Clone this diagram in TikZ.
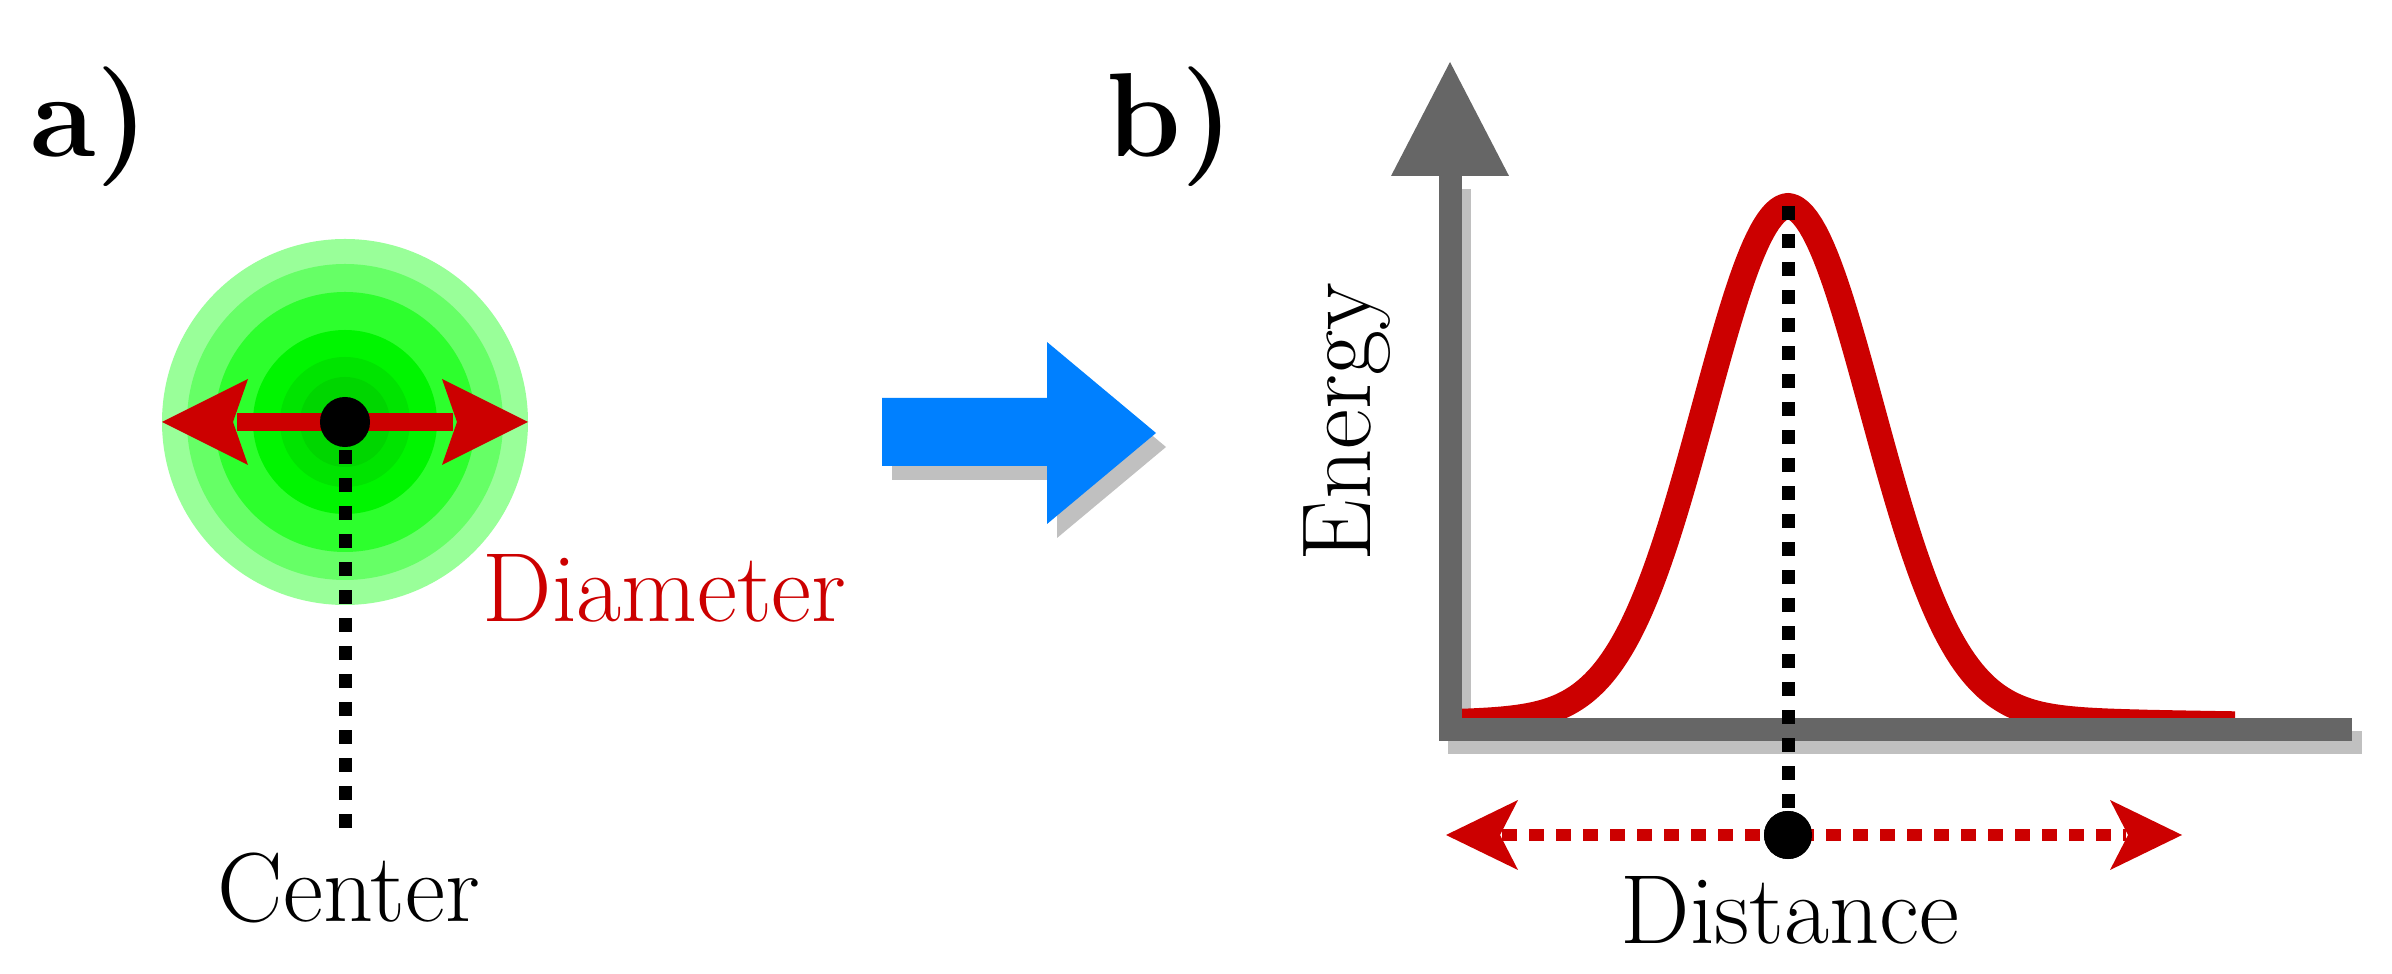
\documentclass[tikz,border=0pt]{standalone}
\usepackage{fontspec}
\usetikzlibrary{calc}
\definecolor{redc}{RGB}{204,0,0}
\definecolor{axisgray}{RGB}{102,102,102}
\definecolor{shadowgray}{RGB}{192,192,192}
\definecolor{bluec}{RGB}{0,128,255}
\definecolor{ringA}{RGB}{153,255,153}
\definecolor{ringB}{RGB}{102,255,102}
\definecolor{ringC}{RGB}{45,255,45}
\definecolor{ringD}{RGB}{0,245,0}
\definecolor{ringE}{RGB}{0,228,0}
\definecolor{ringF}{RGB}{0,214,0}
\begin{document}
\begin{tikzpicture}[x=0.01cm,y=-0.01cm,
  lbl/.style={inner sep=0pt, font=\fontsize{27.9}{33}\selectfont},
  panel/.style={inner sep=0pt, font=\fontsize{34}{40}\selectfont\bfseries},
  blackdots/.style={line width=0.13cm, dash pattern=on 0.14cm off 0.14cm},
  reddots/.style={redc, line width=0.12cm, dash pattern=on 0.15cm off 0.12cm},
  bigdot/.style={circle, fill=black, inner sep=0pt, minimum size=0.5cm},
]
\useasboundingbox (0,0) rectangle (2392,974);

% panel labels
\node[panel, anchor=base west] (la) at (30,157) {a)};
\node[panel, anchor=base west] (lb) at (1106,157) {b)};

% ---------- panel a ----------
\coordinate (c) at (345,422);
\fill[ringA] (c) circle[radius=183];
\fill[ringB] (c) circle[radius=158];
\fill[ringC] (c) circle[radius=130];
\fill[ringD] (c) circle[radius=92];
\fill[ringE] (c) circle[radius=65];
\fill[ringF] (c) circle[radius=45];

\coordinate (cend) at (345,835);
\draw[blackdots] (c) -- (cend);

\coordinate (aL) at (162,422);
\coordinate (aR) at (528,422);
\draw[redc, line width=0.18cm] ($(aL)+(75,0)$) -- ($(aR)+(-75,0)$);
\fill[redc] (aL) -- ++(86,-43) -- ++(-15,43) -- ++(15,43) -- cycle;
\fill[redc] (aR) -- ++(-86,-43) -- ++(15,43) -- ++(-15,43) -- cycle;

\node[bigdot] (cdot) at (c) {};

\node[lbl, anchor=base] (center) at (349,922) {Center};
\node[lbl, anchor=base west, text=redc] (diam) at (482,622) {Diameter};

% ---------- blue arrow ----------
\fill[shadowgray, shift={(10,14)}] (882,398) -- (1047,398) -- (1047,342) -- (1156,433) -- (1047,524) -- (1047,466) -- (882,466) -- cycle;
\fill[bluec] (882,398) -- (1047,398) -- (1047,342) -- (1156,433) -- (1047,524) -- (1047,466) -- (882,466) -- cycle;

% ---------- panel b ----------
% shadows of axes
\fill[shadowgray] (1448,189) rectangle (1471,754);
\fill[shadowgray] (1448,731) rectangle (2362,754);

% curve (tails run under the x axis)
\draw[redc, line width=0.26cm, line join=round]
  plot[domain=1462:1788, samples=100] (\x,{728-500*exp(-0.5*((1788-\x)/84)*((1788-\x)/84))-22*exp(-(1788-\x)/250)})
  -- plot[domain=1788:2235, samples=120] (\x,{728-500*exp(-0.5*((\x-1788)/84)*((\x-1788)/84))-22*exp(-(\x-1788)/250)});

% axes
\fill[axisgray] (1439,176) rectangle (1462,741);
\fill[axisgray] (1439,718) rectangle (2352,741);
\coordinate (ytip) at (1450,62);
\fill[axisgray] (ytip) -- (1509,176) -- (1391,176) -- cycle;

\coordinate (peak) at (1788,206);
\node[bigdot, minimum size=0.48cm] (ddot) at (1788,835) {};

\coordinate (dL) at (1446,835);
\coordinate (dR) at (2182,835);
\draw[reddots] ($(dL)+(56,0)$) -- ($(dR)+(-56,0)$);
\fill[redc] (dL) -- ++(72,-35) -- ++(-18,35) -- ++(18,35) -- cycle;
\fill[redc] (dR) -- ++(-72,-35) -- ++(18,35) -- ++(-18,35) -- cycle;

\draw[blackdots] (peak) -- (ddot);
\node[bigdot, minimum size=0.48cm] at (ddot) {};

\node[lbl, anchor=base] (dist) at (1790,943) {Distance};
\node[lbl, rotate=90, anchor=base] (energy) at (1370,422) {Energy};
\end{tikzpicture}
\end{document}
